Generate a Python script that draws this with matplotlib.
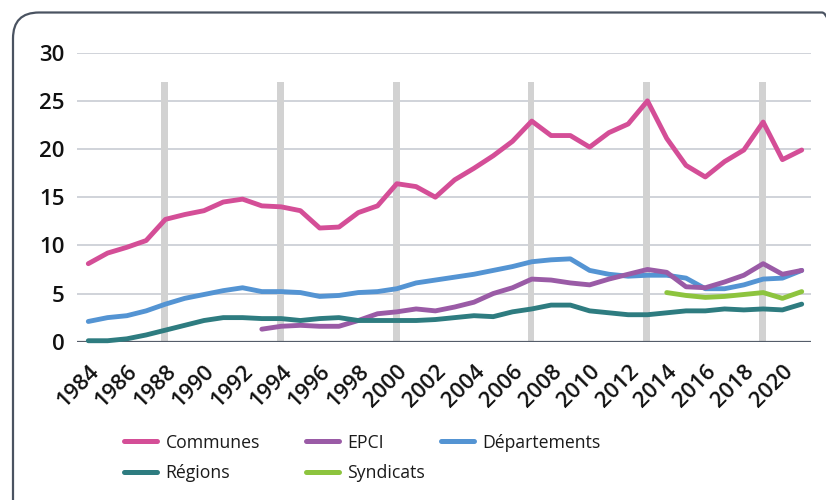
import numpy as np
import matplotlib
matplotlib.use('Agg')
import matplotlib.pyplot as plt
from matplotlib.patches import FancyBboxPatch
from matplotlib.lines import Line2D
from matplotlib.transforms import IdentityTransform

plt.rcParams['font.family'] = ['Open Sans', 'DejaVu Sans']

# data
years = list(range(1984, 2022))
communes = [8.1, 9.2, 9.8, 10.5, 12.7, 13.2, 13.6, 14.5, 14.8, 14.1,
            14.0, 13.6, 11.8, 11.9, 13.4, 14.1, 16.4, 16.1, 15.0, 16.8,
            18.0, 19.3, 20.8, 22.9, 21.4, 21.4, 20.2, 21.7, 22.6, 25.0,
            21.1, 18.3, 17.1, 18.7, 19.9, 22.8, 18.9, 19.9]
departements = [2.1, 2.5, 2.7, 3.2, 3.9, 4.5, 4.9, 5.3, 5.6, 5.2,
                5.2, 5.1, 4.7, 4.8, 5.1, 5.2, 5.5, 6.1, 6.4, 6.7,
                7.0, 7.4, 7.8, 8.3, 8.5, 8.6, 7.4, 7.0, 6.8, 6.9,
                6.9, 6.6, 5.5, 5.5, 5.9, 6.5, 6.6, 7.4]
regions = [0.1, 0.1, 0.3, 0.7, 1.2, 1.7, 2.2, 2.5, 2.5, 2.4,
           2.4, 2.2, 2.4, 2.5, 2.2, 2.2, 2.2, 2.2, 2.3, 2.5,
           2.7, 2.6, 3.1, 3.4, 3.8, 3.8, 3.2, 3.0, 2.8, 2.8,
           3.0, 3.2, 3.2, 3.4, 3.3, 3.4, 3.3, 3.9]

epci_years = list(range(1993, 2022))
epci = [1.3, 1.6, 1.7, 1.6, 1.6, 2.2, 2.9, 3.1, 3.4, 3.2,
        3.6, 4.1, 5.0, 5.6, 6.5, 6.4, 6.1, 5.9, 6.5, 7.0,
        7.5, 7.2, 5.7, 5.6, 6.2, 6.9, 8.1, 7.0, 7.4]

synd_years = list(range(2014, 2022))
syndicats = [5.1, 4.8, 4.6, 4.7, 4.9, 5.1, 4.5, 5.2]

election_years = [1988, 1994, 2000, 2007, 2013, 2019]

tick_years = list(range(1984, 2021, 2))

c_communes = '#D44E97'
c_epci = '#9A5BA6'
c_dep = '#5494D3'
c_reg = '#2E7C80'
c_synd = '#8DC43E'

fig = plt.figure(figsize=(8.26, 5), dpi=100)
ax = fig.add_axes([0.0936, 0.3166, 0.8882, 0.578])

# grey vertical bars (elections)
ax.bar(np.array(election_years) - 0.04, 27, width=0.36, color='#D2D2D2', zorder=2)

lw = 3.5
ax.plot(years, communes, color=c_communes, lw=lw, zorder=4, solid_capstyle='round', clip_on=False)
ax.plot(years, departements, color=c_dep, lw=lw, zorder=4, solid_capstyle='round', clip_on=False)
ax.plot(epci_years, epci, color=c_epci, lw=lw, zorder=4, solid_capstyle='round', clip_on=False)
ax.plot(years, regions, color=c_reg, lw=lw, zorder=5, solid_capstyle='round', clip_on=False)
ax.plot(synd_years, syndicats, color=c_synd, lw=lw, zorder=4, solid_capstyle='round', clip_on=False)

ax.set_xlim(1983.43, 2021.48)
ax.set_ylim(0, 30)
ax.set_yticks(range(0, 31, 5))
ax.set_xticks(tick_years)
ax.set_xticklabels([str(y) for y in tick_years], rotation=45, ha='right', va='top',
                   rotation_mode='anchor', fontsize=15.8, color='#111111', fontweight='semibold')
for t in ax.get_yticklabels():
    t.set_fontweight('semibold')
ax.tick_params(axis='y', length=0, pad=9, labelsize=16, labelcolor='#111111')
ax.tick_params(axis='x', length=0, pad=14)

for s in ax.spines.values():
    s.set_visible(False)
ax.grid(axis='y', color='#C3C7CF', lw=1.1, zorder=1)
ax.set_axisbelow(True)
ax.axhline(0, color='#555D6A', lw=1.6, zorder=3)

# legend: three columns placed by hand
def leg(items, x):
    handles = [Line2D([], [], color=c, lw=3.6, solid_capstyle='round') for c, _ in items]
    labels = [t for _, t in items]
    lg = fig.legend(handles, labels, loc='upper left', bbox_to_anchor=(x, 0.133),
                    frameon=False, fontsize=12.7, handlelength=1.85, handletextpad=0.5,
                    labelspacing=0.72, borderpad=0, borderaxespad=0)
    for t in lg.get_texts():
        t.set_color('#1a1a1a')
    return lg

leg([(c_communes, 'Communes'), (c_reg, 'Régions')], 124 / 826)
leg([(c_epci, 'EPCI'), (c_synd, 'Syndicats')], 306 / 826)
leg([(c_dep, 'Départements')], 441 / 826)

# rounded frame around the chart
frame = FancyBboxPatch((13, -30), 835, 517.5, boxstyle='round,pad=0,rounding_size=26',
                       transform=IdentityTransform(), fill=False, ec='#4A5361', lw=1.6)
fig.patches.append(frame)

fig.savefig('out.png', dpi=100)
